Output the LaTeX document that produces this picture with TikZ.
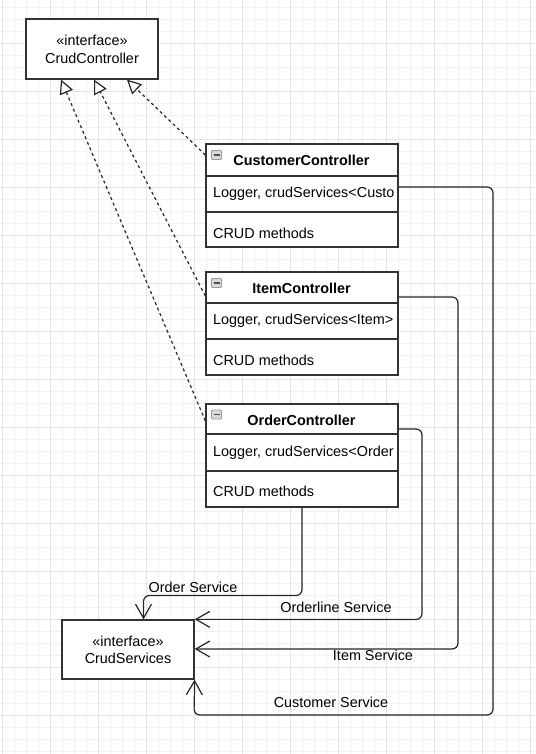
\documentclass[tikz,border=0pt]{standalone}
\usepackage{fontspec}
\setmainfont{Liberation Sans}
\usetikzlibrary{arrows.meta}
\begin{document}
\begin{tikzpicture}[x=1pt,y=-1pt,
  font=\fontsize{14.4}{17}\selectfont,
  gridminor/.style={draw=black!5, line width=0.8pt},
  gridmajor/.style={draw=black!11, line width=0.8pt},
  box/.style={draw=black!80, line width=1.3pt, fill=white, rectangle, inner sep=0pt},
  divider/.style={draw=black!80, line width=1.3pt},
  txt/.style={inner sep=0pt, anchor=base, text=black},
  ltxt/.style={inner sep=0pt, anchor=base west, text=black},
  ttl/.style={inner sep=0pt, anchor=base, text=black, font=\fontsize{14.4}{17}\selectfont\bfseries},
  minusicon/.style={draw=black!40, fill=black!15, rounded corners=1pt, line width=0.8pt,
    minimum width=10pt, minimum height=9pt, inner sep=0pt,
    path picture={\draw[black!70, line width=1.3pt]
      ([xshift=-3pt]path picture bounding box.center) -- ([xshift=3pt]path picture bounding box.center);}},
  realize/.style={draw=black!85, line width=1.2pt, dash pattern=on 3pt off 3pt,
    -{Triangle[open, length=14pt, width=14pt, fill=white]}},
  assoc/.style={draw=black!85, line width=1.2pt, rounded corners=6pt,
    -{Straight Barb[length=14pt, width=16pt]}}
]
\useasboundingbox (0,0) rectangle (535,754);
\fill[white] (0,0) rectangle (535,754);
% grid
\foreach \i in {0,...,44} \draw[gridminor] ({2+12*\i},0) -- ({2+12*\i},754);
\foreach \j in {0,...,62} \draw[gridminor] (0,{7+12*\j}) -- (535,{7+12*\j});
\foreach \i in {0,...,11} \draw[gridmajor] ({2+48*\i},0) -- ({2+48*\i},754);
\foreach \j in {0,...,14} \draw[gridmajor] (0,{43+48*\j}) -- (535,{43+48*\j});

% interfaces
\node[box, minimum width=132pt, minimum height=60pt] (ctrl) at (92,49) {};
\node[txt] (ctrlst) at (92,45.7) {«interface»};
\node[txt] (ctrlname) at (92,63.3) {CrudController};

\node[box, minimum width=132pt, minimum height=59pt] (srv) at (128,649.5) {};
\node[txt] (srvst) at (128,646.7) {«interface»};
\node[txt] (srvname) at (128,663.3) {CrudServices};

% CustomerController
\node[box, minimum width=192pt, minimum height=103pt] (custbox) at (302,195.5) {};
\draw[divider] (custbox.west |- 0,176) -- (custbox.east |- 0,176);
\draw[divider] (custbox.west |- 0,212) -- (custbox.east |- 0,212);
\node[minusicon] (custicon) at (216.5,155) {};
\node[ttl] (custtitle) at (301.5,166) {CustomerController};
\node[ltxt] (custattr) at (213,197.7) {Logger, crudServices<Custo};
\node[ltxt] (custmeth) at (213,238.2) {CRUD methods};

% ItemController
\node[box, minimum width=192pt, minimum height=103pt] (itembox) at (302,323.5) {};
\draw[divider] (itembox.west |- 0,303) -- (itembox.east |- 0,303);
\draw[divider] (itembox.west |- 0,339) -- (itembox.east |- 0,339);
\node[minusicon] (itemicon) at (216.5,283) {};
\node[ttl] (itemtitle) at (301.5,293) {ItemController};
\node[ltxt] (itemattr) at (213,324.5) {Logger, crudServices<Item>};
\node[ltxt] (itemmeth) at (213,365) {CRUD methods};

% OrderController
\node[box, minimum width=192pt, minimum height=103pt] (orderbox) at (302,455.5) {};
\draw[divider] (orderbox.west |- 0,434) -- (orderbox.east |- 0,434);
\draw[divider] (orderbox.west |- 0,471) -- (orderbox.east |- 0,471);
\node[minusicon] (ordericon) at (216.5,414.5) {};
\node[ttl] (ordertitle) at (301.5,425.7) {OrderController};
\node[ltxt] (orderattr) at (213,456.7) {Logger, crudServices<Order};
\node[ltxt] (ordermeth) at (213,496.7) {CRUD methods};

% realization (dashed) edges
\draw[realize] (custbox.west |- 0,155) -- (ctrl.south -| 127,0);
\draw[realize] (itembox.west |- 0,296) -- (ctrl.south -| 94,0);
\draw[realize] (orderbox.west |- 0,421) -- (ctrl.south -| 61,0);

% associations
\draw[assoc] (custbox.east |- 0,187) -- (493,187) -- (493,715) -- (194,715) -- (srv.south east);
\draw[assoc] (itembox.east |- 0,297) -- (458,297) -- (458,649) -- (srv.east |- 0,649);
\draw[assoc] (orderbox.east |- 0,429) -- (422,429) -- (422,619.5) -- (srv.north east);
\draw[assoc] (orderbox.south) -- (302,595.5) -- (143.5,595.5) -- (srv.north -| 143.5,0);

% labels
\node[txt] (lblorder) at (193,592.3) {Order Service};
\node[txt] (lblorderline) at (336,612.3) {Orderline Service};
\node[txt] (lblitem) at (373,660) {Item Service};
\node[txt] (lblcust) at (331,707.7) {Customer Service};
\end{tikzpicture}
\end{document}
